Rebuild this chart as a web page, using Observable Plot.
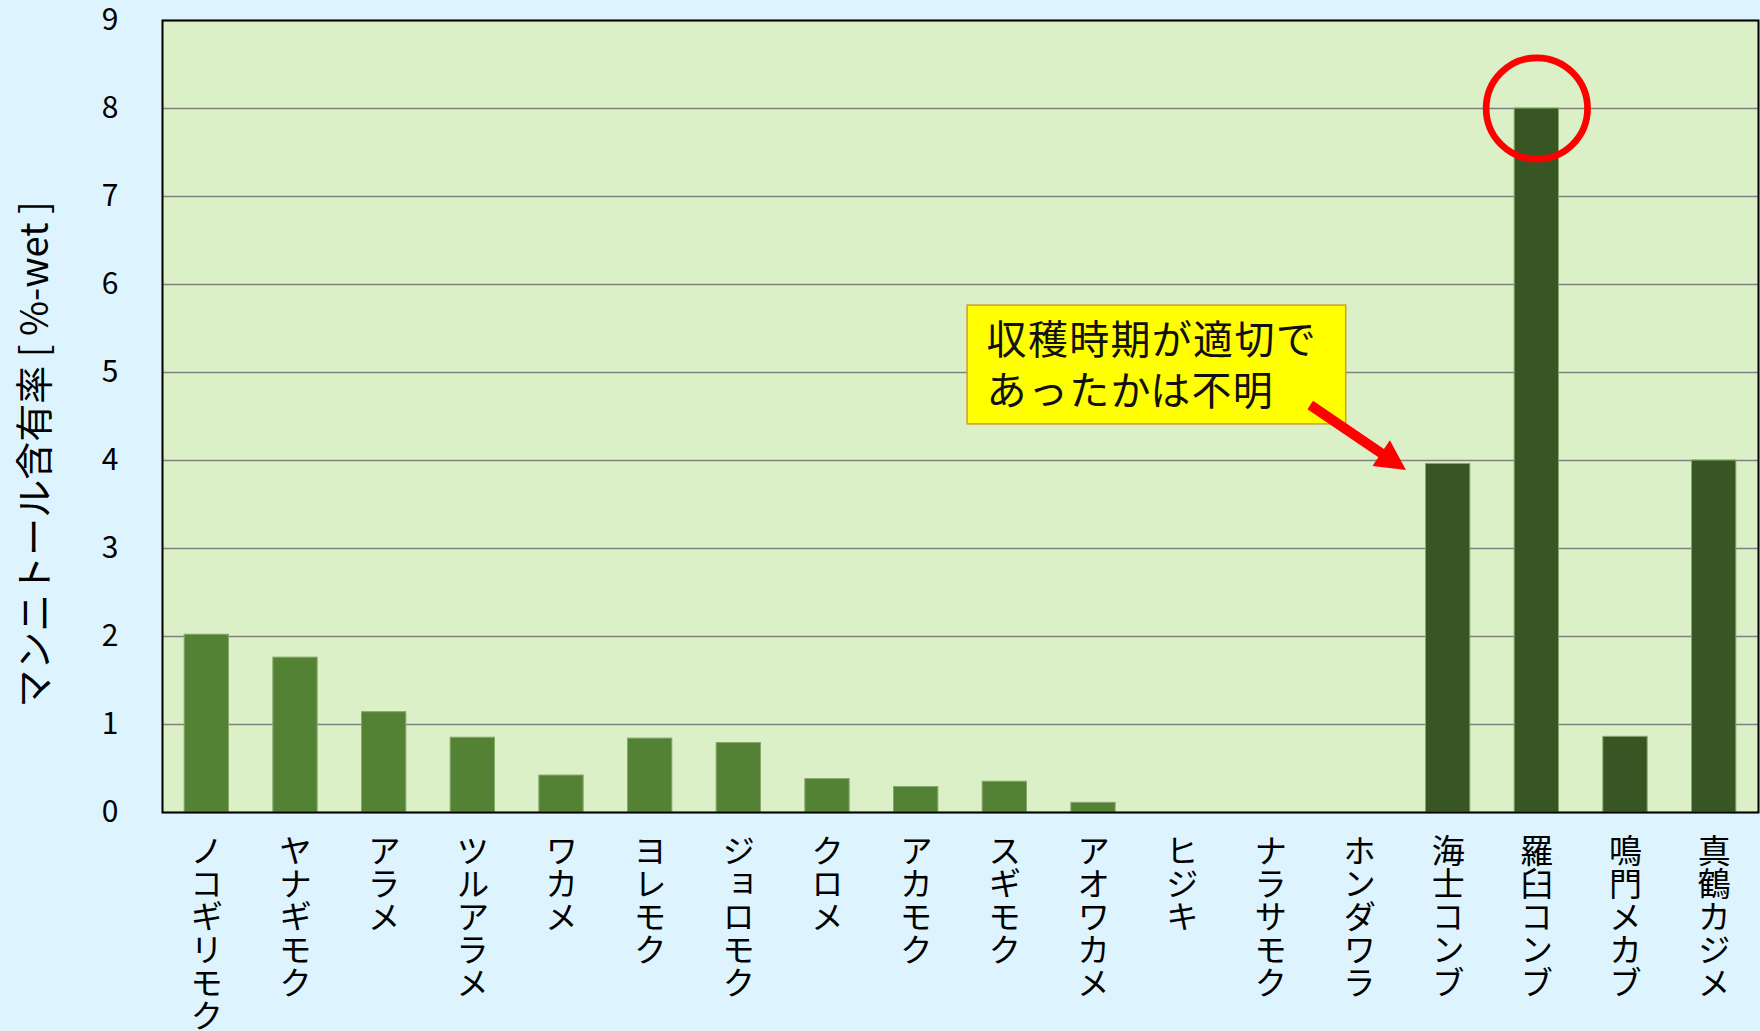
<!DOCTYPE html>
<html><head><meta charset="utf-8">
<script src="https://cdn.jsdelivr.net/npm/d3@7"></script>
<script src="https://cdn.jsdelivr.net/npm/@observablehq/plot@0.6"></script>
<style>
html,body{margin:0;padding:0;background:#DDF4FF;}
#chart svg{display:block;}
</style>
</head><body><div id="chart"></div>
<script>
// ---- data ----
const categories = ["ノコギリモク","ヤナギモク","アラメ","ツルアラメ","ワカメ","ヨレモク","ジョロモク","クロメ","アカモク","スギモク","アオワカメ","ヒジキ","ナラサモク","ホンダワラ","海士コンブ","羅臼コンブ","鳴門メカブ","真鶴カジメ"];
const values = [2.02, 1.76, 1.14, 0.85, 0.42, 0.84, 0.79, 0.38, 0.29, 0.35, 0.11, 0, 0, 0, 3.96, 8.0, 0.86, 4.0];
const groups = ["A","A","A","A","A","A","A","A","A","A","A","A","A","A","B","B","B","B"];
const yTicks = [0,1,2,3,4,5,6,7,8,9];
const yLabel = "マンニトール含有率 [ %-wet ]";
const noteLines = ["収穫時期が適切で", "あったかは不明"];
const highlightCat = ["羅臼コンブ"];
const highlightVal = [8];

const rows = categories.map((c, i) => ({cat: c, value: values[i], group: groups[i]}));
const FONT = "'Noto Sans CJK JP', 'Noto Sans', sans-serif";

// annotation box, text and arrow, positioned through the scales
function noteMark(index, scales) {
  const x = scales.x, y = scales.y;
  const x0 = x(categories[0]);
  const step = x(categories[1]) - x(categories[0]);
  const px = i => x0 + i * step;
  const g = d3.create("svg:g");
  const bx1 = px(8.83), bx2 = px(13.10), by1 = y(5.76), by2 = y(4.41);
  g.append("rect").attr("x", bx1).attr("y", by1).attr("width", bx2 - bx1).attr("height", by2 - by1)
    .attr("fill", "#FFFF00").attr("stroke", "#C9A227").attr("stroke-width", 1.5);
  const lineVals = [5.40, 4.82];
  noteLines.forEach((t, k) => {
    g.append("text").attr("x", px(9.05)).attr("y", y(lineVals[k]))
      .attr("text-anchor", "start")
      .attr("dominant-baseline", "central").attr("font-size", 40)
      .attr("letter-spacing", 1.3)
      .attr("font-family", FONT).attr("fill", "#111").text(t);
  });
  // arrow
  const ax = px(12.70), ay = y(4.625), tx = px(13.78), ty = y(3.886);
  const dxv = tx - ax, dyv = ty - ay, L = Math.hypot(dxv, dyv);
  const ux = dxv / L, uy = dyv / L, nx = -uy, ny = ux;
  const hl = 30, hw = 15.5, sw = 5;
  const bxh = tx - ux * hl, byh = ty - uy * hl;
  const pts = [
    [ax + nx * sw, ay + ny * sw], [bxh + nx * sw, byh + ny * sw], [bxh + nx * hw, byh + ny * hw],
    [tx, ty], [bxh - nx * hw, byh - ny * hw], [bxh - nx * sw, byh - ny * sw], [ax - nx * sw, ay - ny * sw]
  ];
  g.append("polygon").attr("points", pts.map(p => p.join(",")).join(" ")).attr("fill", "#FF0000");
  return g.node();
}

const chart = Plot.plot({
  width: 1760,
  height: 1031,
  marginLeft: 162,
  marginRight: 2,
  marginTop: 20,
  marginBottom: 219,
  style: {background: "#DDF4FF", fontFamily: FONT, color: "#000"},
  x: {domain: categories, paddingInner: 0.5, paddingOuter: 0.25, round: false, label: null},
  y: {domain: [0, 9], label: null},
  color: {domain: ["A", "B"], range: ["#548235", "#375623"]},
  marks: [
    Plot.frame({fill: "#DBF0C6"}),
    Plot.gridY(yTicks, {stroke: "#808080", strokeOpacity: 1, strokeWidth: 1.4}),
    Plot.barY(rows, {x: "cat", y: "value", fill: "group", stroke: "#86A86A", strokeWidth: 1}),
    Plot.frame({stroke: "#000", strokeWidth: 2}),
    Plot.axisY(yTicks, {tickSize: 0, tickPadding: 44, fontSize: 30, label: null, fill: "#000", tickFormat: d3.format("d")}),
    Plot.axisX({tickSize: 0, tickPadding: 21, fontSize: 33, label: null, fill: "#000"}),
    Plot.text([yLabel], {frameAnchor: "left", rotate: -90, dx: -127, dy: 38, fontSize: 38, fill: "#000", textAnchor: "middle", lineAnchor: "middle"}),
    Plot.dot(highlightCat.map((c, i) => ({cat: c, v: highlightVal[i]})), {x: "cat", y: "v", r: 50.7, stroke: "#FF0000", strokeWidth: 6.7, fill: "none"}),
    noteMark
  ]
});
document.getElementById("chart").appendChild(chart);

chart.querySelectorAll('g[aria-label="x-axis tick label"] text').forEach(t => {
  t.removeAttribute("y");
  t.setAttribute("text-anchor", "start");
  t.style.writingMode = "vertical-rl";
  t.style.textOrientation = "upright";
});
</script>
</body></html>
